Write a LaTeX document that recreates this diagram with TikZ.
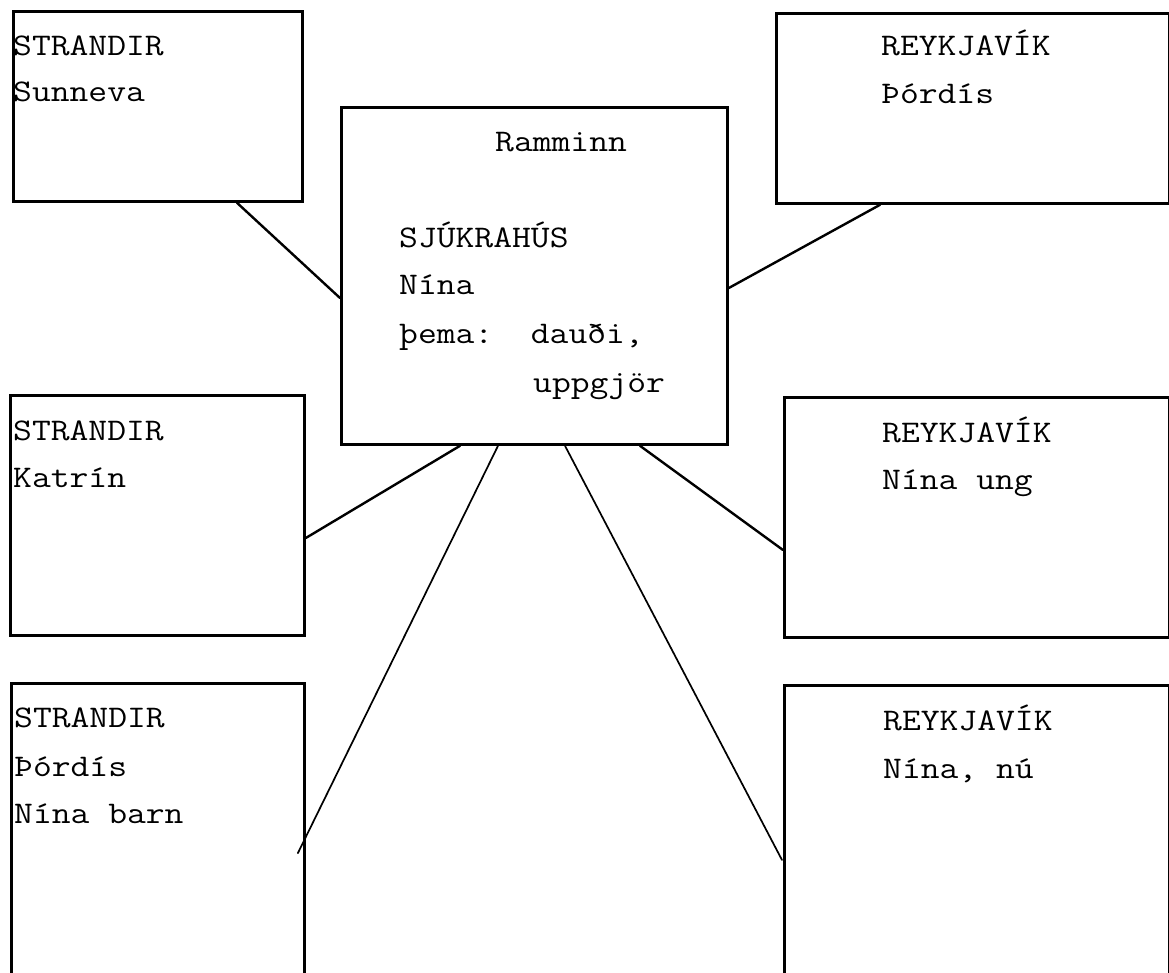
\documentclass[tikz,border=0pt]{standalone}
\usepackage{fontspec}
\setmonofont{Latin Modern Mono}[FakeStretch=1.16]
\usetikzlibrary{calc}
\tikzset{
  box/.style={draw, line width=2.8pt, rectangle, inner sep=0pt, anchor=north west},
  txt/.style={anchor=base west, inner sep=0pt, font=\ttfamily\fontsize{31.5}{31.5}\selectfont},
  link/.style={line width=2.4pt, line cap=round},
  longlink/.style={line width=1.7pt, line cap=round},
}
\begin{document}
\begin{tikzpicture}[x=1pt,y=-1pt]
\useasboundingbox (0,0) rectangle (1169,972);
\clip (0,0) rectangle (1169,972);
% boxes
\node[box, minimum width=289pt, minimum height=190pt] (tl) at (12,10) {};
\node[box, minimum width=393pt, minimum height=190pt] (tr) at (775,12) {};
\node[box, minimum width=386pt, minimum height=337pt] (c) at (340,106) {};
\node[box, minimum width=294pt, minimum height=240pt] (ml) at (9,394) {};
\node[box, minimum width=385pt, minimum height=240pt] (mr) at (783,396) {};
\node[box, minimum width=293pt, minimum height=300pt] (bl) at (10,682) {};
\node[box, minimum width=385pt, minimum height=300pt] (br) at (783,684) {};
% texts
\node[txt] (tl1) at (13,55) {STRANDIR};
\node[txt] (tl2) at (13,101) {Sunneva};
\node[txt] (tr1) at (881,55) {REYKJAVÍK};
\node[txt] (tr2) at (881,103) {Þórdís};
\node[txt] (c0) at (495,151) {Ramminn};
\node[txt] (c1) at (399,247) {SJÚKRAHÚS};
\node[txt] (c2) at (399,294) {Nína};
\node[txt] (c3) at (399,343) {þema:\ \ dauði,};
\node[txt] (c4) at (533,392) {uppgjör};
\node[txt] (ml1) at (13,440) {STRANDIR};
\node[txt] (ml2) at (13,487) {Katrín};
\node[txt] (mr1) at (882,442) {REYKJAVÍK};
\node[txt] (mr2) at (882,489) {Nína ung};
\node[txt] (bl1) at (14,727) {STRANDIR};
\node[txt] (bl2) at (14,776) {Þórdís};
\node[txt] (bl3) at (14,823) {Nína barn};
\node[txt] (br1) at (883,730) {REYKJAVÍK};
\node[txt] (br2) at (883,778) {Nína, nú};
% connectors
\draw[link] ($(tl.south west)+(225,0)$) -- ($(c.north west)+(0,192)$);
\draw[link] ($(tr.south west)+(105,0)$) -- ($(c.north east)+(0,182)$);
\draw[link] ($(c.south west)+(120,0)$) -- ($(ml.north east)+(0,144)$);
\draw[link] ($(c.south west)+(300,0)$) -- ($(mr.north west)+(0,154)$);
\draw[longlink, shorten >=-18pt] ($(c.south west)+(158,0)$) -- ($(bl.north east)+(0,155)$);
\draw[longlink] ($(c.south west)+(225,0)$) -- ($(br.north west)+(-1,176)$);
\end{tikzpicture}
\end{document}
